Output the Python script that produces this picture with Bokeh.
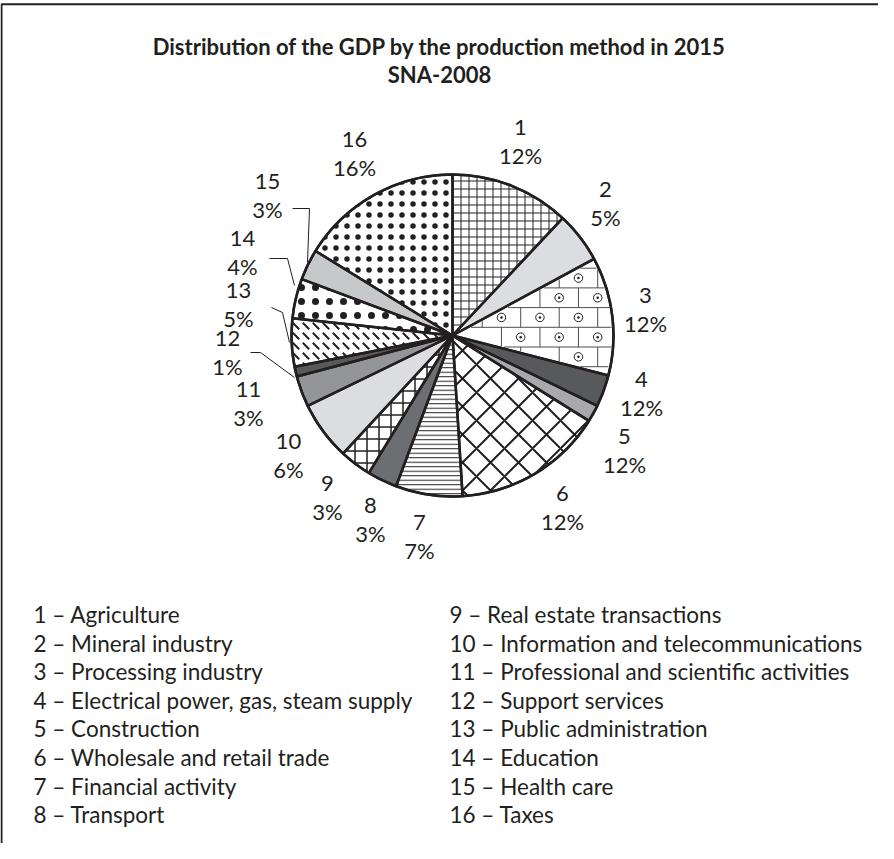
import numpy as np
from bokeh.plotting import figure
from bokeh.models import ColumnDataSource, Range1d
from bokeh.embed import file_html
from bokeh.resources import INLINE
from bokeh.core.properties import value

# ---------------- data ----------------
sector_ids = [str(i) for i in range(1, 17)]
# slice sizes as drawn in the picture (share of the full circle, %)
shares = [12.0, 5.1, 11.9, 3.2, 1.7, 15.1, 6.7, 3.0, 3.2, 5.9, 3.1, 1.0, 4.8, 4.0, 3.1, 16.2]
# percentage labels as printed next to the slices
pct_labels = ["12%", "5%", "12%", "12%", "12%", "12%", "7%", "3%",
              "3%", "6%", "3%", "1%", "5%", "4%", "3%", "16%"]
sector_names = ["Agriculture", "Mineral industry", "Processing industry",
                "Electrical power, gas, steam supply", "Construction",
                "Wholesale and retail trade", "Financial activity", "Transport",
                "Real estate transactions", "Information and telecommunications",
                "Professional and scientific activities", "Support services",
                "Public administration", "Education", "Health care", "Taxes"]
title_lines = ["Distribution of the GDP by the production method in 2015", "SNA-2008"]

# ---------------- layout / style ----------------
W, H = 878, 843
def X(px):  # reference page x -> data x
    return px - 8
def Y(py):  # reference page y -> data y
    return H - (py - 8)

cx, cy, R = X(460), Y(343), 161
INK = "#231f20"

fill_colors = ["white", "#dcdde0", "white", "#58595b", "#a7a9ac", "white", "white", "#6d6e71",
               "white", "#dcdde0", "#939598", "#58595b", "white", "white", "#c7c8ca", "white"]
hatches = ["+", " ", " ", " ", " ", "x", "-", " ", "+", " ", " ", " ", "`", ".", " ", "."]
hatch_scales = [8, 12, 12, 12, 12, 28, 4.5, 12, 12, 12, 12, 12, 10, 14, 12, 11]
hatch_weights = [1, 1, 1, 1, 1, 2, 1, 1, 1.5, 1, 1, 1, 2, 6, 1, 3.5]

label_pos = [(528, 149), (613, 211), (653, 317), (649, 401), (632, 458), (570, 515),
             (427, 544), (378, 527), (335, 505), (296, 463), (256, 411), (235, 360),
             (246, 312), (250, 260), (275, 203), (362, 161)]
leaders = {
    15: [(300, 216), (317, 216), (315, 270)],
    14: [(277, 266), (295, 266), (302, 293)],
    13: [(279, 315), (290, 320), (297, 350)],
    12: [(258, 360), (268, 360), (302, 385)],
}

p = figure(width=W, height=H, x_range=Range1d(0, W), y_range=Range1d(0, H),
           output_backend="svg", toolbar_location=None, min_border=0,
           x_axis_type=None, y_axis_type=None)
p.grid.visible = False
p.outline_line_color = None
p.background_fill_color = "white"

# frame
p.line(x=[1, 1, W + 10], y=[-10, Y(11.7), Y(11.7)], line_color=INK, line_width=2)

# pie geometry
fr = np.array(shares) / np.sum(shares)
cum = np.concatenate([[0], np.cumsum(fr)])
a0 = 2 * np.pi * cum[:-1]          # clockwise from top
a1 = 2 * np.pi * cum[1:]
start = np.pi / 2 - a0
end = np.pi / 2 - a1
src = ColumnDataSource(dict(start=start, end=end, fill=fill_colors, hatch=hatches,
                            hs=hatch_scales, hw=hatch_weights))
p.wedge(x=cx, y=cy, radius=R, start_angle="start", end_angle="end", direction="clock",
        source=src, fill_color="fill", hatch_pattern="hatch", hatch_scale="hs",
        hatch_weight="hw", hatch_color=INK, line_color=None)

# brick-with-rings texture for slice 3 (processing industry), clipped to its wedge
k3 = 2
def inside(x, y, margin=2.0):
    d = np.hypot(x - cx, y - cy)
    th = np.mod(np.arctan2(x - cx, y - cy), 2 * np.pi)
    ang_m = margin / np.maximum(d, 1e-6)
    return (d <= R - margin) & (th >= a0[k3] + ang_m) & (th <= a1[k3] - ang_m)

def clip_seg(x1, y1, x2, y2):
    t = np.linspace(0, 1, 400)
    xs, ys = x1 + (x2 - x1) * t, y1 + (y2 - y1) * t
    ok = inside(xs, ys, 1.5)
    if ok.sum() < 2:
        return None
    idx = np.where(ok)[0]
    return [xs[idx[0]], xs[idx[-1]]], [ys[idx[0]], ys[idx[-1]]]

bw, bh = 38.5, 19.7
seg_x, seg_y, ring_x, ring_y = [], [], [], []
for j in range(-12, 12):
    top = 275.7 + bh * j
    s = clip_seg(X(cx + 8 - 200), Y(top), X(cx + 8 + 200), Y(top))
    if s:
        seg_x.append(s[0]); seg_y.append(s[1])
    for m in range(-2, 8):
        vx = 566.7 + (bw / 2) * (j % 2) + bw * m
        s = clip_seg(X(vx), Y(top), X(vx), Y(top + bh))
        if s:
            seg_x.append(s[0]); seg_y.append(s[1])
        rx, ry = X(vx + bw / 2), Y(top + bh / 2)
        if inside(np.array([rx]), np.array([ry]), 5.5)[0]:
            ring_x.append(rx); ring_y.append(ry)
p.multi_line(xs=seg_x, ys=seg_y, line_color="#4d4d4f", line_width=1)
p.scatter(x=ring_x, y=ring_y, marker="circle", size=8.5, fill_color="white",
          line_color=INK, line_width=1)
p.scatter(x=ring_x, y=ring_y, marker="circle", size=2.5, fill_color=INK, line_color=None)

# slice outlines
p.wedge(x=cx, y=cy, radius=R, start_angle="start", end_angle="end", direction="clock",
        source=src, fill_color=None, line_color=INK, line_width=2.5)
p.circle(x=cx, y=cy, radius=R, fill_color=None, line_color=INK, line_width=2.5)

# leader lines
p.multi_line(xs=[[X(a) for a, b in v] for v in leaders.values()],
             ys=[[Y(b) for a, b in v] for v in leaders.values()],
             line_color=INK, line_width=1)

# slice labels
lx = [X(a) for a, b in label_pos]
ly = [Y(b) for a, b in label_pos]
lab_font = dict(text_font=value("Lato"), text_font_size="22px", text_align="center",
                text_baseline="middle", text_color=INK)
p.text(x=lx, y=[v + 14 for v in ly], text=sector_ids, **lab_font)
p.text(x=lx, y=[v - 14 for v in ly], text=pct_labels, **lab_font)

# title
p.text(x=[X(447), X(447)], y=[Y(54), Y(82)], text=title_lines, text_font=value("Lato"),
       text_font_size="22px", text_font_style="bold", text_align="center",
       text_baseline="middle", text_color=INK)

# legend (two columns)
leg_text = [f"{i} \u2013 {n}" for i, n in zip(sector_ids, sector_names)]
col_x = [X(41), X(457)]
row0, step = 622, 28.6
leg_x = [col_x[k // 8] for k in range(16)]
leg_y = [Y(row0 + (k % 8) * step) for k in range(16)]
p.text(x=leg_x, y=leg_y, text=leg_text, text_font=value("Lato"), text_font_size="22.5px",
       text_align="left", text_baseline="middle", text_color=INK)

open("out.html", "w").write(file_html(p, INLINE))
